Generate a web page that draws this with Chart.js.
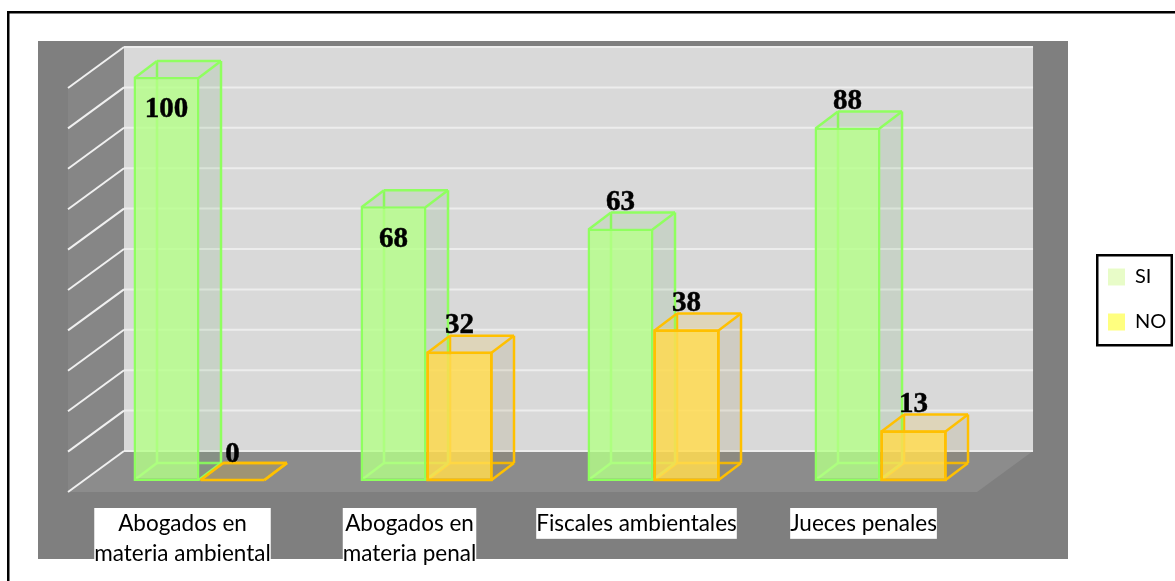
<!DOCTYPE html>
<html>
<head>
<meta charset="utf-8">
<style>html,body{margin:0;padding:0;background:#fff;overflow:hidden}canvas{display:block}</style>
<script src="https://cdn.jsdelivr.net/npm/chart.js@4/dist/chart.umd.min.js"></script>
</head>
<body>
<div style="width:1175px;height:581px;position:relative"><canvas id="c" width="1175" height="581"></canvas></div>
<script>
const categories = [['Abogados en','materia ambiental'],['Abogados en','materia penal'],'Fiscales ambientales','Jueces penales'];
const seriesSI = [100, 68, 62.5, 87.5];
const seriesNO = [0, 32, 37.5, 12.5];
const labelInsideSI = [true, true, false, false];
const labelInsideNO = [false, false, false, false];

const labelFont = 'bold 29px "Liberation Serif", "Times New Roman", serif';
const tickFontSize = 22.5, tickLineHeight = 1.37, tickFamily = 'Lato';
const AREA = {left:86, right:994, top:77, bottom:481};
const DEPTH = {x:22.5, y:17};
const WALL = {dxL:38, dxR:39, dy:-30};
const FLOOR = {dxL:-18, dxR:-17, dy:11};
const INSET = 1;

function poly(ctx, pts, fill, stroke, lw){
  ctx.beginPath();
  pts.forEach((p,i)=> i?ctx.lineTo(p[0],p[1]):ctx.moveTo(p[0],p[1]));
  ctx.closePath();
  if(fill){ctx.fillStyle=fill;ctx.fill();}
  if(stroke){ctx.strokeStyle=stroke;ctx.lineWidth=lw||2.5;ctx.stroke();}
}
function seg(ctx,a,b,stroke,lw){
  ctx.beginPath();ctx.moveTo(a[0],a[1]);ctx.lineTo(b[0],b[1]);
  ctx.strokeStyle=stroke;ctx.lineWidth=lw||2.5;ctx.stroke();
}
function boxGeom(el,base){
  const half=el.width/2, l=el.x-half+INSET, r=el.x+half-INSET;
  const b=base-INSET, t=Math.min(el.y+INSET,b);
  return {l,r,t,b,dx:DEPTH.x,dy:DEPTH.y};
}
const STY = [
  {edge:'#8FFF5F', top:'rgba(120,205,90,0.14)', side:'rgba(100,170,90,0.14)', back:'rgba(150,255,110,0.03)'},
  {edge:'#FFC000', top:'rgba(255,192,0,0.14)', side:'rgba(150,130,60,0.14)', back:'rgba(255,192,0,0.03)'}
];
function backPart(ctx,g,s){
  const {l,r,t,b,dx,dy}=g;
  poly(ctx,[[l,b],[r,b],[r+dx,b-dy],[l+dx,b-dy]],s.back);
  seg(ctx,[l+dx,t-dy],[l+dx,b-dy],s.edge);
  seg(ctx,[l+dx,b-dy],[r+dx,b-dy],s.edge);
  seg(ctx,[l,b],[l+dx,b-dy],s.edge);
}
function sidePart(ctx,g,s){
  const {l,r,t,b,dx,dy}=g;
  poly(ctx,[[r,t],[r+dx,t-dy],[r+dx,b-dy],[r,b]],s.side);
  poly(ctx,[[l,t],[r,t],[r+dx,t-dy],[l+dx,t-dy]],s.top);
  seg(ctx,[r,b],[r+dx,b-dy],s.edge);
  seg(ctx,[r+dx,b-dy],[r+dx,t-dy],s.edge);
  seg(ctx,[l,t],[l+dx,t-dy],s.edge);
  seg(ctx,[l+dx,t-dy],[r+dx,t-dy],s.edge);
  seg(ctx,[r,t],[r+dx,t-dy],s.edge);
}

const scene3d = {
  id:'scene3d',
  afterLayout(chart){
    const lg=chart.legend;
    lg.left=1083; lg.right=1172; lg.top=242; lg.bottom=581;
  },
  beforeDraw(chart){
    const ctx=chart.ctx, a=chart.chartArea, ys=chart.scales.y, xs=chart.scales.x;
    ctx.save();
    ctx.fillStyle='#fff';ctx.fillRect(0,0,chart.width,chart.height);
    ctx.strokeStyle='#000';ctx.lineWidth=2.5;
    ctx.beginPath();ctx.moveTo(8.25,590);ctx.lineTo(8.25,12.25);ctx.lineTo(1185,12.25);ctx.stroke();
    ctx.fillStyle='#7f7f7f';ctx.fillRect(38,41,1030,518);
    const wl=a.left+WALL.dxL, wr=a.right+WALL.dxR;
    const y0=ys.getPixelForValue(0)+WALL.dy, y1=ys.getPixelForValue(100)+WALL.dy;
    const fl=a.left+FLOOR.dxL, fr=a.right+FLOOR.dxR, fy=a.bottom+FLOOR.dy;
    const dyWall=fy-y0;
    ctx.fillStyle='#d9d9d9';ctx.fillRect(wl,y1,wr-wl,y0-y1);
    poly(ctx,[[wl,y1],[wl,y0],[fl,fy],[fl,y1+dyWall]],'#868686');
    poly(ctx,[[wl,y0],[wr,y0],[fr,fy],[fl,fy]],'#8c8c8c');
    ys.ticks.forEach(t=>{
      const y=ys.getPixelForValue(t.value)+WALL.dy;
      seg(ctx,[fl,y+dyWall],[wl,y],'#f0f0f0',2);
      seg(ctx,[wl,y],[wr,y],'#ededed',2);
    });
    // white plates behind the category labels
    ctx.font=tickFontSize+'px '+tickFamily;
    const opt=xs.options.ticks;
    categories.forEach((c,i)=>{
      const lines=Array.isArray(c)?c:[c];
      const w=Math.max(...lines.map(s=>ctx.measureText(s).width));
      const cx=xs.getPixelForTick(i)+opt.labelOffset;
      const top=a.bottom+opt.padding;
      ctx.fillStyle='#fff';
      ctx.fillRect(cx-w/2,top,w,lines.length*tickFontSize*tickLineHeight);
    });
    ctx.restore();
  },
  beforeDatasetsDraw(chart){
    const ctx=chart.ctx, base=chart.scales.y.getPixelForValue(0);
    ctx.save();
    chart.getDatasetMeta(1).data.forEach(el=>backPart(ctx,boxGeom(el,base),STY[1]));
    chart.getDatasetMeta(0).data.forEach(el=>{
      const g=boxGeom(el,base);backPart(ctx,g,STY[0]);sidePart(ctx,g,STY[0]);
    });
    ctx.restore();
  },
  afterDatasetsDraw(chart){
    const ctx=chart.ctx, base=chart.scales.y.getPixelForValue(0);
    ctx.save();
    chart.getDatasetMeta(1).data.forEach(el=>{
      const g=boxGeom(el,base);
      sidePart(ctx,g,STY[1]);
      poly(ctx,[[g.l,g.t],[g.r,g.t],[g.r,g.b],[g.l,g.b]],null,STY[1].edge,2.5);
    });
    ctx.restore();
  },
  afterDraw(chart){
    const ctx=chart.ctx;
    ctx.save();
    ctx.strokeStyle='#000';ctx.lineWidth=2.5;
    ctx.strokeRect(1097.25,255.25,74.5,90);
    ctx.font=labelFont;ctx.fillStyle='#000';ctx.textAlign='center';ctx.textBaseline='middle';
    ctx.lineWidth=0.5;ctx.lineJoin='round';
    [[seriesSI,labelInsideSI],[seriesNO,labelInsideNO]].forEach(([vals,inside],d)=>{
      chart.getDatasetMeta(d).data.forEach((el,i)=>{
        const y=inside[i]?el.y+33:el.y-26;
        const txt=String(Math.round(vals[i]));
        ctx.strokeText(txt,el.x,y);
        ctx.fillText(txt,el.x,y);
      });
    });
    ctx.restore();
  }
};

new Chart(document.getElementById('c'),{
  type:'bar',
  data:{labels:categories,datasets:[
    {label:'SI',data:seriesSI,backgroundColor:'rgba(180,255,135,0.8)',borderColor:'#8FFF5F',borderWidth:2.5,borderSkipped:false,
     barPercentage:1,categoryPercentage:132/227},
    {label:'NO',data:seriesNO,backgroundColor:'rgba(255,218,80,0.85)',borderColor:'#FFC000',borderWidth:2.5,borderSkipped:false,
     barPercentage:1,categoryPercentage:132/227}
  ]},
  options:{
    responsive:false,animation:false,
    layout:{padding:{left:AREA.left,top:AREA.top,right:87.7,bottom:0}},
    plugins:{
      tooltip:{enabled:false},
      title:{display:false},
      legend:{
        display:true,position:'right',align:'start',
        labels:{
          font:{family:tickFamily,size:20},color:'#000',boxWidth:17,boxHeight:17,padding:25,
          generateLabels(){
            return [
              {text:'SI',fillStyle:'#E8FCC8',strokeStyle:'#E8FCC8',lineWidth:0,datasetIndex:0},
              {text:'NO',fillStyle:'#FFFF7F',strokeStyle:'#FFFF7F',lineWidth:0,datasetIndex:1}
            ];
          }
        }
      }
    },
    scales:{
      x:{
        type:'category',
        grid:{display:false,drawTicks:false},border:{display:false},
        afterFit(s){s.height=100;},
        ticks:{
          display:true,autoSkip:false,maxRotation:0,minRotation:0,padding:27,labelOffset:-17,
          color:'#000',font:{family:tickFamily,size:tickFontSize,lineHeight:tickLineHeight}
        }
      },
      y:{
        type:'linear',min:0,max:100,
        afterFit(s){s.width=0;},
        grid:{display:false},border:{display:false},
        ticks:{display:false,stepSize:10}
      }
    }
  },
  plugins:[scene3d]
});
</script>
</body>
</html>
